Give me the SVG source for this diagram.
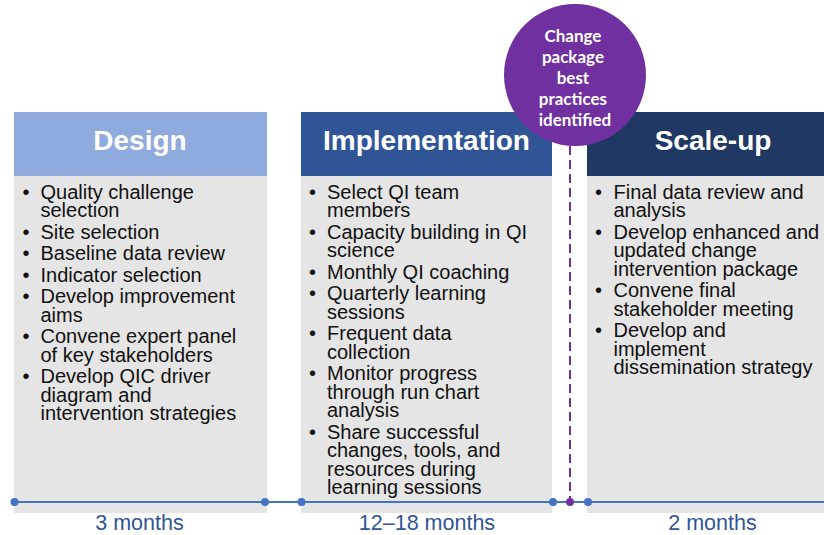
<svg xmlns="http://www.w3.org/2000/svg" width="824" height="535" viewBox="0 0 824 535">
<style>
.body{fill:#e5e5e5}
.hd{font-family:"Liberation Sans",Arial,sans-serif;font-weight:bold;font-size:28px;fill:#ffffff;text-anchor:middle}
.tx{font-family:"Liberation Sans",Arial,sans-serif;font-size:20px;fill:#111111}
.dur{font-family:"Liberation Sans",Arial,sans-serif;font-size:21.5px;fill:#2f5597;text-anchor:middle}
.ct{font-family:Lato,"Open Sans",sans-serif;font-weight:bold;font-size:17px;fill:#ffffff;text-anchor:middle}
.dot{fill:#4472c4}
</style>
<rect width="824" height="535" fill="#ffffff"/>
<g id="design">
<rect class="body" x="14" y="176" width="253" height="337"/>
<rect x="14" y="112" width="253" height="64" fill="#8faadc"/>
<text class="hd" x="140" y="150">Design</text>
<text class="tx">
<tspan x="22.5" y="198.5">•</tspan><tspan x="40.5" y="198.5">Quality challenge</tspan>
<tspan x="40.5" y="217">selection</tspan>
<tspan x="22.5" y="238.5">•</tspan><tspan x="40.5" y="238.5">Site selection</tspan>
<tspan x="22.5" y="260">•</tspan><tspan x="40.5" y="260">Baseline data review</tspan>
<tspan x="22.5" y="281.5">•</tspan><tspan x="40.5" y="281.5">Indicator selection</tspan>
<tspan x="22.5" y="303">•</tspan><tspan x="40.5" y="303">Develop improvement</tspan>
<tspan x="40.5" y="321.5">aims</tspan>
<tspan x="22.5" y="343">•</tspan><tspan x="40.5" y="343">Convene expert panel</tspan>
<tspan x="40.5" y="361.5">of key stakeholders</tspan>
<tspan x="22.5" y="383">•</tspan><tspan x="40.5" y="383">Develop QIC driver</tspan>
<tspan x="40.5" y="401.5">diagram and</tspan>
<tspan x="40.5" y="420">intervention strategies</tspan>
</text>
</g>
<g id="implementation">
<rect class="body" x="301" y="176" width="251" height="337"/>
<rect x="301" y="112" width="251" height="64" fill="#2f5597"/>
<text class="hd" x="426.5" y="150">Implementation</text>
<text class="tx">
<tspan x="309" y="198.5">•</tspan><tspan x="327" y="198.5">Select QI team</tspan>
<tspan x="327" y="217">members</tspan>
<tspan x="309" y="238.5">•</tspan><tspan x="327" y="238.5">Capacity building in QI</tspan>
<tspan x="327" y="257">science</tspan>
<tspan x="309" y="278.5">•</tspan><tspan x="327" y="278.5">Monthly QI coaching</tspan>
<tspan x="309" y="300">•</tspan><tspan x="327" y="300">Quarterly learning</tspan>
<tspan x="327" y="318.5">sessions</tspan>
<tspan x="309" y="340">•</tspan><tspan x="327" y="340">Frequent data</tspan>
<tspan x="327" y="358.5">collection</tspan>
<tspan x="309" y="380">•</tspan><tspan x="327" y="380">Monitor progress</tspan>
<tspan x="327" y="398.5">through run chart</tspan>
<tspan x="327" y="417">analysis</tspan>
<tspan x="309" y="438.5">•</tspan><tspan x="327" y="438.5">Share successful</tspan>
<tspan x="327" y="457">changes, tools, and</tspan>
<tspan x="327" y="475.5">resources during</tspan>
<tspan x="327" y="494">learning sessions</tspan>
</text>
</g>
<g id="scaleup">
<rect class="body" x="587" y="176" width="237" height="337"/>
<rect x="587" y="112" width="237" height="64" fill="#203864"/>
<text class="hd" x="713" y="150">Scale-up</text>
<text class="tx">
<tspan x="595" y="198.5">•</tspan><tspan x="613.5" y="198.5">Final data review and</tspan>
<tspan x="613.5" y="217">analysis</tspan>
<tspan x="595" y="238.5">•</tspan><tspan x="613.5" y="238.5">Develop enhanced and</tspan>
<tspan x="613.5" y="257">updated change</tspan>
<tspan x="613.5" y="275.5">intervention package</tspan>
<tspan x="595" y="297">•</tspan><tspan x="613.5" y="297">Convene final</tspan>
<tspan x="613.5" y="315.5">stakeholder meeting</tspan>
<tspan x="595" y="337">•</tspan><tspan x="613.5" y="337">Develop and</tspan>
<tspan x="613.5" y="355.5">implement</tspan>
<tspan x="613.5" y="374">dissemination strategy</tspan>
</text>
</g>
<g id="connectors">
<line x1="570" y1="146" x2="570" y2="502" stroke="#7030a0" stroke-width="2" stroke-dasharray="9 5"/>
<line x1="14" y1="502" x2="824" y2="502" stroke="#4472c4" stroke-width="2"/>
<circle class="dot" cx="14.5" cy="502" r="4"/>
<circle class="dot" cx="265" cy="502" r="4"/>
<circle class="dot" cx="301.5" cy="502" r="4"/>
<circle class="dot" cx="553" cy="502" r="4"/>
<circle class="dot" cx="588" cy="502" r="4"/>
<circle cx="570" cy="502" r="4" fill="#7030a0"/>
</g>
<g id="milestone">
<circle cx="575" cy="75" r="71" fill="#7030a0"/>
<text class="ct">
<tspan x="575" y="42">Change</tspan>
<tspan x="575" y="63">package</tspan>
<tspan x="575" y="84">best</tspan>
<tspan x="575" y="105">practices</tspan>
<tspan x="575" y="126">identified</tspan>
</text>
</g>
<g id="durations">
<text class="dur" x="139.5" y="530">3 months</text>
<text class="dur" x="427" y="530">12–18 months</text>
<text class="dur" x="712.5" y="530">2 months</text>
</g>
</svg>
